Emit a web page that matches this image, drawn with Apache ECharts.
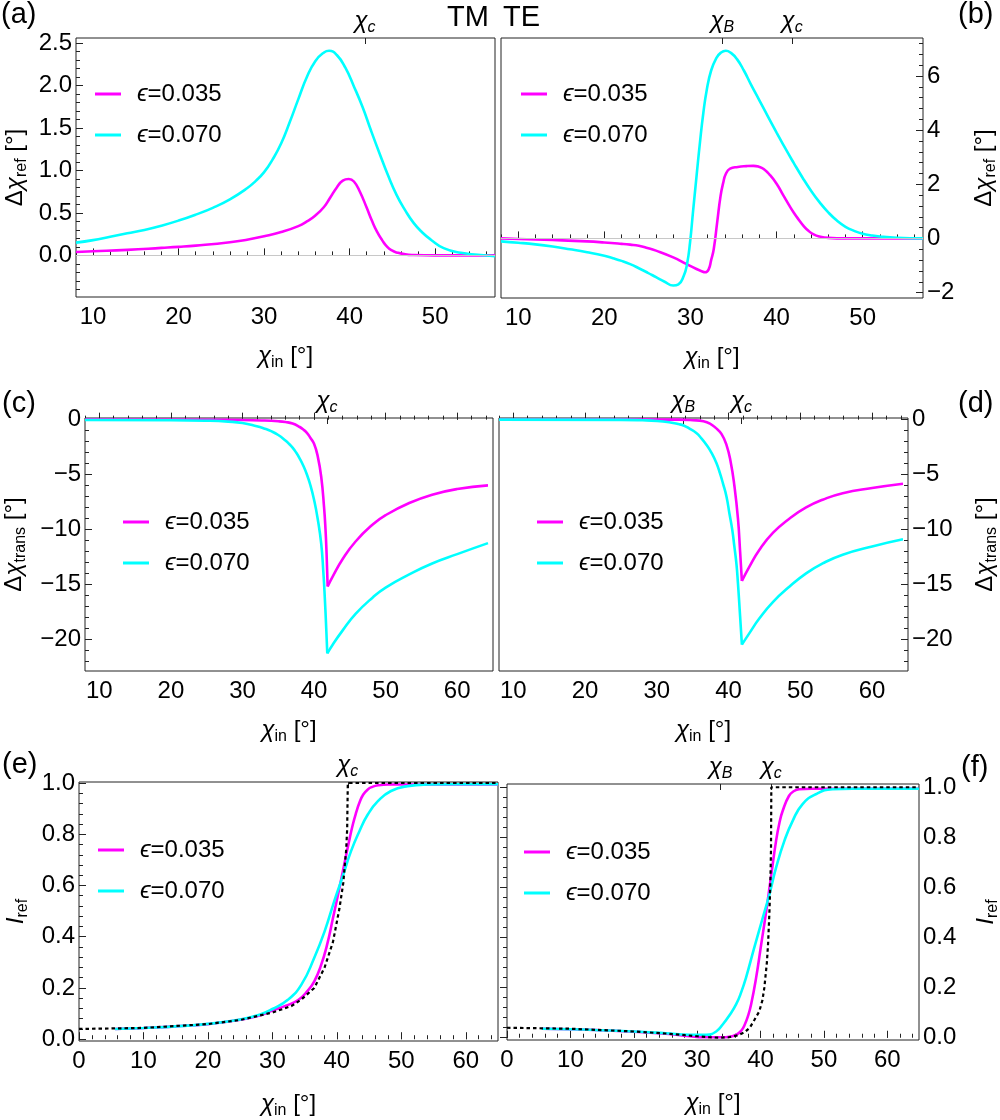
<!DOCTYPE html>
<html>
<head>
<meta charset="utf-8">
<script src="https://cdn.jsdelivr.net/npm/echarts@6/dist/echarts.min.js"></script>
<style>
  html, body { margin: 0; padding: 0; background: #fff; }
  #chart { width: 1000px; height: 1120px; }
</style>
</head>
<body>
<div id="chart"></div>
<script>
const FONT = 'Liberation Sans, Arial, sans-serif'
const MAGENTA = '#ff00ff'
const CYAN = '#00ffff'

const legendNames = ['ϵ=0.035', 'ϵ=0.070']

// tick labels
const xTicks10to50 = [10, 20, 30, 40, 50]
const xTicks10to60 = [10, 20, 30, 40, 50, 60]
const xTicks0to60 = [0, 10, 20, 30, 40, 50, 60]
const yTicksRefTM = [0, 0.5, 1, 1.5, 2, 2.5]
const yTicksRefTE = [-2, 0, 2, 4, 6]
const yTicksTrans = [-20, -15, -10, -5, 0]
const yTicksInt = [0, 0.2, 0.4, 0.6, 0.8, 1]

// special angles marked on the top edge
const chiC = 41.8
const chiCInt = 41.7
const chiB = 33.7

// (a) TM, reflected beam shift
const aMagX = [8, 10, 14, 18, 20, 22, 26, 28, 30, 32, 34, 35, 36, 37, 37.7, 38.5, 39.2, 39.9, 40.5, 41.2, 42, 42.6, 43.2, 43.8, 44.4, 45, 45.5, 46.5, 47.5, 50, 57]
const aMagY = [0.04, 0.048, 0.065, 0.088, 0.1, 0.115, 0.155, 0.185, 0.225, 0.275, 0.345, 0.4, 0.47, 0.57, 0.675, 0.8, 0.88, 0.9, 0.87, 0.75, 0.56, 0.41, 0.28, 0.18, 0.1, 0.055, 0.035, 0.012, 0.004, 0, 0]
const aCyanX = [8, 10, 12, 14, 16, 18, 20, 22, 24, 26, 28, 29, 30, 31, 32, 33, 34, 35, 36, 37, 37.6, 38.5, 39.5, 40.5, 41.5, 42.5, 43.5, 44.5, 45.5, 46.5, 47.5, 48.5, 49.5, 51, 53, 55, 57]
const aCyanY = [0.15, 0.18, 0.22, 0.26, 0.3, 0.35, 0.41, 0.48, 0.56, 0.66, 0.79, 0.875, 0.98, 1.13, 1.32, 1.57, 1.84, 2.1, 2.29, 2.39, 2.41, 2.36, 2.21, 1.99, 1.75, 1.47, 1.2, 0.94, 0.71, 0.53, 0.38, 0.27, 0.185, 0.085, 0.03, 0.008, -0.01]

// (b) TE, reflected beam shift
const bMagX = [8, 10, 14, 18, 20, 22, 23, 24, 25, 26, 28, 29.5, 30.7, 31.3, 31.7, 32.1, 32.4, 32.7, 33.1, 33.5, 33.8, 34.1, 34.6, 35.5, 36.5, 37.3, 38, 38.5, 39.2, 40, 40.8, 41.5, 42, 42.6, 43.1, 43.7, 44.3, 45, 46, 48, 57]
const bMagY = [0, -0.02, -0.06, -0.11, -0.15, -0.2, -0.23, -0.27, -0.35, -0.45, -0.7, -0.94, -1.13, -1.21, -1.25, -1.15, -0.8, -0.4, 0.59, 1.58, 2.05, 2.38, 2.58, 2.64, 2.67, 2.68, 2.64, 2.56, 2.35, 2.02, 1.58, 1.2, 0.95, 0.68, 0.47, 0.28, 0.15, 0.07, 0.02, 0, 0]
const bCyanX = [8, 10, 12, 14, 16, 18, 20, 21, 22, 23, 24, 25, 26, 27, 28, 28.6, 29.2, 29.6, 29.95, 30.3, 30.7, 31.1, 31.5, 31.9, 32.4, 33, 33.5, 34.1, 34.7, 35.4, 36.2, 37, 38, 39, 40, 41, 42, 43, 44, 45, 46, 47, 48, 49, 50, 51, 52, 54, 57]
const bCyanY = [-0.11, -0.16, -0.22, -0.3, -0.4, -0.51, -0.64, -0.73, -0.83, -0.95, -1.1, -1.26, -1.43, -1.6, -1.74, -1.7, -1.4, -0.95, -0.15, 1.0, 2.28, 3.54, 4.65, 5.5, 6.2, 6.66, 6.85, 6.93, 6.85, 6.62, 6.2, 5.7, 5.1, 4.5, 3.91, 3.33, 2.78, 2.25, 1.76, 1.33, 0.96, 0.66, 0.43, 0.28, 0.17, 0.11, 0.07, 0.025, 0]

// (c) TM, transmitted beam shift
const cMagX = [8, 25, 30, 33, 35, 36, 37, 38, 38.5, 39, 39.5, 40, 40.5, 41, 41.4, 41.6, 41.75, 41.9, 42.6, 44, 45.8, 48.2, 50, 53.3, 56.5, 60, 64.3]
const cMagY = [0, -0.01, -0.03, -0.08, -0.15, -0.22, -0.35, -0.67, -0.9, -1.2, -1.67, -2.2, -3.3, -5.2, -8.0, -10, -12.2, -15.2, -14.3, -12.7, -11.1, -9.55, -8.7, -7.6, -6.84, -6.32, -5.99]
const cCyanX = [8, 20, 25, 28, 30, 32, 33, 34, 35, 36, 36.5, 37, 37.5, 38, 38.5, 39, 39.5, 40, 40.5, 41, 41.3, 41.5, 41.7, 41.85, 42.6, 44, 45.8, 48.2, 50, 53.3, 56.5, 60, 64.3]
const cCyanY = [-0.03, -0.05, -0.1, -0.18, -0.3, -0.6, -0.8, -1.05, -1.4, -1.9, -2.2, -2.55, -3.0, -3.55, -4.2, -5.0, -6.0, -7.3, -9.0, -11.3, -13.9, -16.2, -19, -21.3, -20.5, -19.2, -17.7, -16.2, -15.3, -14.1, -13.1, -12.25, -11.25]

// (d) TE, transmitted beam shift
const dMagX = [8, 33, 35, 36.5, 37.5, 38.2, 39, 39.7, 40.3, 40.8, 41.3, 41.6, 41.85, 42.9, 44.3, 46.2, 48.5, 50.8, 53.1, 55.9, 60, 64.3]
const dMagY = [0, 0, -0.05, -0.15, -0.4, -0.75, -1.3, -2.3, -3.9, -6.0, -9.0, -12, -14.7, -13.4, -11.85, -10.3, -9.0, -8.0, -7.3, -6.7, -6.23, -5.84]
const dCyanX = [8, 25, 28, 30, 31.7, 33, 33.8, 34.5, 35.5, 36.2, 36.9, 37.6, 38.3, 38.8, 39.2, 39.7, 40.1, 40.5, 40.8, 41.1, 41.3, 41.6, 41.85, 42.9, 44.3, 46.2, 48.5, 50.8, 53.1, 55.9, 60, 64.3]
const dCyanY = [0, -0.02, -0.06, -0.12, -0.24, -0.4, -0.55, -0.8, -1.22, -1.7, -2.28, -3.0, -3.95, -4.9, -5.78, -7.0, -8.5, -10, -11.55, -13.2, -14.9, -17.9, -20.5, -19.45, -18.1, -16.6, -15.2, -14.0, -13.1, -12.3, -11.55, -10.9]

// (e) TM, reflected intensity (dashed = plane wave)
const eDashX = [0, 10, 20, 25, 30, 33, 34.5, 36.5, 38.1, 39.4, 40.4, 41.0, 41.2, 41.45, 41.6, 41.7, 65]
const eDashY = [0.04, 0.044, 0.059, 0.075, 0.104, 0.13, 0.155, 0.2, 0.28, 0.38, 0.51, 0.61, 0.67, 0.74, 0.82, 1.0, 1.0]
const eMagX = [5.6, 10, 15, 20, 25, 28, 30, 32, 34, 35.5, 36.5, 37.5, 38.5, 39.4, 40.4, 41.45, 42, 42.5, 43, 43.5, 44.1, 44.8, 45.5, 46.4, 48, 50, 65]
const eMagY = [0.04, 0.044, 0.05, 0.059, 0.076, 0.093, 0.112, 0.13, 0.153, 0.19, 0.226, 0.285, 0.37, 0.473, 0.59, 0.72, 0.785, 0.84, 0.885, 0.923, 0.955, 0.975, 0.985, 0.991, 0.994, 0.994, 0.994]
const eCyanX = [5.6, 10, 15, 20, 25, 28, 30, 32.4, 34.5, 36.5, 38.1, 39.6, 40.9, 42.2, 43.5, 44.8, 46.4, 48.4, 51, 54, 58, 65]
const eCyanY = [0.04, 0.044, 0.05, 0.06, 0.077, 0.096, 0.118, 0.154, 0.213, 0.318, 0.421, 0.539, 0.635, 0.734, 0.812, 0.877, 0.93, 0.969, 0.988, 0.994, 0.995, 0.995]

// (f) TE, reflected intensity (dashed = plane wave)
const fDashX = [0, 10, 20, 25, 30, 32, 33.5, 35, 36.5, 37.5, 38.3, 39, 39.8, 40.3, 40.6, 41.0, 41.2, 41.4, 41.55, 41.65, 41.7, 65]
const fDashY = [0.04, 0.036, 0.025, 0.017, 0.006, 0.002, 0, 0.002, 0.01, 0.022, 0.04, 0.07, 0.105, 0.15, 0.2, 0.3, 0.38, 0.5, 0.62, 0.75, 1.0, 1.0]
const fMagX = [5.5, 10, 15, 20, 25, 28.8, 31, 34, 35.2, 36.2, 37, 37.5, 38, 38.5, 39.3, 40.1, 40.9, 41.7, 42.45, 43, 43.5, 44.5, 45.3, 46.1, 48, 65]
const fMagY = [0.036, 0.034, 0.03, 0.024, 0.016, 0.006, 0.002, 0.002, 0.005, 0.012, 0.03, 0.052, 0.085, 0.132, 0.239, 0.372, 0.506, 0.652, 0.786, 0.86, 0.906, 0.966, 0.985, 0.992, 0.994, 0.994]
const fCyanX = [5.5, 10, 15, 20, 25, 28.8, 31.45, 33, 34.06, 35.1, 36.16, 37, 37.7, 39, 40.35, 41.4, 42.45, 43.76, 45.07, 46.6, 48.7, 51.35, 54.5, 65]
const fCyanY = [0.036, 0.034, 0.03, 0.025, 0.018, 0.012, 0.012, 0.025, 0.054, 0.09, 0.134, 0.185, 0.239, 0.359, 0.479, 0.572, 0.679, 0.786, 0.866, 0.932, 0.972, 0.992, 0.994, 0.994]

const zip = (xs, ys) => xs.map((x, i) => [x, ys[i]])

const rich = {
  n: { fontSize: 24, fontFamily: FONT, color: '#000', lineHeight: 30 },
  i: { fontSize: 24, fontFamily: FONT, color: '#000', fontStyle: 'italic', lineHeight: 30 },
  s: { fontSize: 16, fontFamily: FONT, color: '#000', lineHeight: 18, verticalAlign: 'bottom' },
  si: { fontSize: 16, fontFamily: FONT, color: '#000', fontStyle: 'italic', lineHeight: 18, verticalAlign: 'bottom' }
}

const xName = '{i|χ}{s|in}{n| [°]}'

const panels = [
  {
    grid: { left: 76, top: 38, width: 419, height: 259 },
    x: [8, 57], y: [-0.49, 2.56], side: 'left',
    xTicks: xTicks10to50, yTicks: yTicksRefTM, xStep: 2, yStep: 0.1, digits: 1,
    marks: [chiC], yName: '{n|Δ}{i|χ}{s|ref}{n| [°]}', yGap: 46, xGap: 44,
    legend: [95, 81], zero: true,
    lines: [[aMagX, aMagY], [aCyanX, aCyanY]]
  },
  {
    grid: { left: 501, top: 38, width: 422, height: 260 },
    x: [8, 57], y: [-2.2, 7.4], side: 'right',
    xTicks: xTicks10to50, yTicks: yTicksRefTE, xStep: 2, yStep: 0.4, digits: 0,
    marks: [chiB, chiC], yName: '{n|Δ}{i|χ}{s|ref}{n| [°]}', yGap: 46, xGap: 44,
    legend: [521, 81], zero: true,
    lines: [[bMagX, bMagY], [bCyanX, bCyanY]]
  },
  {
    grid: { left: 85, top: 418, width: 408, height: 253 },
    x: [8, 65], y: [-22.9, 0.15], side: 'left',
    xTicks: xTicks10to60, yTicks: yTicksTrans, xStep: 2, yStep: 1, digits: 0,
    marks: [chiC], yName: '{n|Δ}{i|χ}{s|trans}{n| [°]}', yGap: 56, xGap: 44,
    legend: [123, 509], zero: false, cusp: true,
    lines: [[cMagX, cMagY], [cCyanX, cCyanY]]
  },
  {
    grid: { left: 499, top: 418, width: 409, height: 253 },
    x: [8, 65], y: [-22.9, 0.15], side: 'right',
    xTicks: xTicks10to60, yTicks: yTicksTrans, xStep: 2, yStep: 1, digits: 0,
    marks: [chiB, chiC], yName: '{n|Δ}{i|χ}{s|trans}{n| [°]}', yGap: 62, xGap: 44,
    legend: [537, 509], zero: false, cusp: true,
    lines: [[dMagX, dMagY], [dCyanX, dCyanY]]
  },
  {
    grid: { left: 79, top: 782, width: 419, height: 259 },
    x: [0, 65], y: [-0.007, 1.004], side: 'left',
    xTicks: xTicks0to60, yTicks: yTicksInt, xStep: 2, yStep: 0.04, digits: 1,
    marks: [chiCInt], yName: '{i|I}{s|ref}', yGap: 48, xGap: 48,
    legend: [98, 837], zero: false,
    lines: [[eMagX, eMagY], [eCyanX, eCyanY]], dashed: [eDashX, eDashY]
  },
  {
    grid: { left: 507, top: 784, width: 412, height: 256 },
    x: [0, 65], y: [-0.009, 1.013], side: 'right',
    xTicks: xTicks0to60, yTicks: yTicksInt, xStep: 2, yStep: 0.04, digits: 1,
    marks: [chiB, chiCInt], yName: '{i|I}{s|ref}', yGap: 52, xGap: 48,
    legend: [524, 839], zero: false,
    lines: [[fMagX, fMagY], [fCyanX, fCyanY]], dashed: [fDashX, fDashY]
  }
]

function minorTicks(min, max, step) {
  const out = []
  for (let k = Math.ceil(min / step - 1e-9); k * step <= max + 1e-9; k++) {
    out.push(Math.round(k * step * 1000) / 1000)
  }
  return out
}

// split a curve at its lowest point so the kink stays sharp
function segments(pts, cusp) {
  if (!cusp) return [pts]
  let m = 0
  pts.forEach((p, i) => { if (p[1] < pts[m][1]) m = i })
  return [pts.slice(0, m + 1), pts.slice(m)]
}

const fmtNum = digits => v => (v < 0 ? '\u2212' : '') + Math.abs(v).toFixed(digits)

const grids = [], xAxes = [], yAxes = [], series = [], legends = []
const tickLine = { color: '#222', width: 1 }

panels.forEach(p => {
  const g = grids.length
  grids.push({ ...p.grid, show: true, borderColor: '#222', borderWidth: 1, backgroundColor: 'transparent', outerBoundsMode: 'none' })
  grids.push({ ...p.grid, show: false, outerBoundsMode: 'none' })

  const xi = xAxes.length
  xAxes.push({
    gridIndex: g, type: 'value', position: 'bottom', min: p.x[0], max: p.x[1],
    axisLine: { show: false }, splitLine: { show: false },
    axisTick: { show: true, inside: true, length: 7, customValues: p.xTicks, lineStyle: tickLine },
    axisLabel: { customValues: p.xTicks, margin: 8, fontSize: 24, fontFamily: FONT, color: '#000' },
    name: xName, nameLocation: 'middle', nameGap: p.xGap, nameMoveOverlap: false,
    nameTextStyle: { rich }
  })
  xAxes.push({
    gridIndex: g, type: 'value', position: 'top', min: p.x[0], max: p.x[1],
    axisLine: { show: false }, splitLine: { show: false },
    axisTick: { show: true, inside: true, length: 6, customValues: p.marks, lineStyle: tickLine },
    axisLabel: {
      customValues: p.marks, margin: 2, rich,
      formatter: v => v === chiB ? '{i|χ}{si|B}' : '{i|χ}{si|c}'
    }
  })
  xAxes.push({
    gridIndex: g + 1, type: 'value', position: 'bottom', min: p.x[0], max: p.x[1],
    axisLine: { show: false }, splitLine: { show: false }, axisLabel: { show: false },
    axisTick: { show: true, inside: true, length: 4, customValues: minorTicks(p.x[0], p.x[1], p.xStep), lineStyle: tickLine }
  })

  const yi = yAxes.length
  yAxes.push({
    gridIndex: g, type: 'value', position: p.side, min: p.y[0], max: p.y[1],
    axisLine: { show: false }, splitLine: { show: false },
    axisTick: { show: true, inside: true, length: 7, customValues: p.yTicks, lineStyle: tickLine },
    axisLabel: { customValues: p.yTicks, margin: 4, fontSize: 24, fontFamily: FONT, color: '#000', formatter: fmtNum(p.digits) },
    name: p.yName, nameLocation: 'middle', nameGap: p.yGap, nameRotate: 90, nameMoveOverlap: false,
    nameTextStyle: { rich }
  })
  yAxes.push({
    gridIndex: g + 1, type: 'value', position: p.side, min: p.y[0], max: p.y[1],
    axisLine: { show: false }, splitLine: { show: false }, axisLabel: { show: false },
    axisTick: { show: true, inside: true, length: 4, customValues: minorTicks(p.y[0], p.y[1], p.yStep), lineStyle: tickLine }
  })

  if (p.zero) {
    series.push({
      type: 'line', xAxisIndex: xi, yAxisIndex: yi, data: [], z: 1, silent: true,
      markLine: {
        silent: true, symbol: 'none', label: { show: false }, animation: false,
        lineStyle: { color: '#c8c8c8', width: 1, type: 'solid' },
        data: [{ yAxis: 0 }]
      }
    })
  }

  const colors = [MAGENTA, CYAN]
  p.lines.forEach(([xs, ys], k) => {
    segments(zip(xs, ys), p.cusp).forEach(seg => {
      series.push({
        type: 'line', name: legendNames[k], xAxisIndex: xi, yAxisIndex: yi,
        data: seg, symbol: 'none', smooth: 0.5,
        lineStyle: { color: colors[k], width: 2.6 }, itemStyle: { color: colors[k] }, z: 2
      })
    })
  })
  if (p.dashed) {
    series.push({
      type: 'line', name: 'plane wave', xAxisIndex: xi, yAxisIndex: yi,
      data: zip(p.dashed[0], p.dashed[1]), symbol: 'none', smooth: false,
      lineStyle: { color: '#000', width: 2.2, type: [3.5, 3] }, itemStyle: { color: '#000' }, z: 3
    })
  }

  legends.push({
    left: p.legend[0], top: p.legend[1], orient: 'vertical', padding: 0,
    itemWidth: 26, itemHeight: 3, itemGap: 15, icon: 'rect', selectedMode: false,
    data: legendNames,
    formatter: n => '{e|ϵ}{t|' + n.slice(1) + '}',
    textStyle: {
      lineHeight: 26,
      rich: {
        e: { fontSize: 24, fontFamily: FONT, fontStyle: 'italic', color: '#000', padding: [0, 0, 0, 11] },
        t: { fontSize: 24, fontFamily: FONT, color: '#000' }
      }
    }
  })
})

const label = (text, left, top) => ({
  type: 'text', left, top,
  style: { text, font: '29px ' + FONT, fill: '#000' }
})

const chart = echarts.init(document.getElementById('chart'), null, { renderer: 'canvas' })
chart.setOption({
  backgroundColor: '#fff',
  animation: false,
  grid: grids,
  xAxis: xAxes,
  yAxis: yAxes,
  legend: legends,
  series,
  graphic: [
    label('(a)', 1, 0),
    label('TM', 447, 3),
    label('TE', 503, 3),
    label('(b)', 958, 0),
    label('(c)', 2, 389),
    label('(d)', 958, 389),
    label('(e)', 2, 750),
    label('(f)', 961, 753)
  ]
})
</script>
</body>
</html>
